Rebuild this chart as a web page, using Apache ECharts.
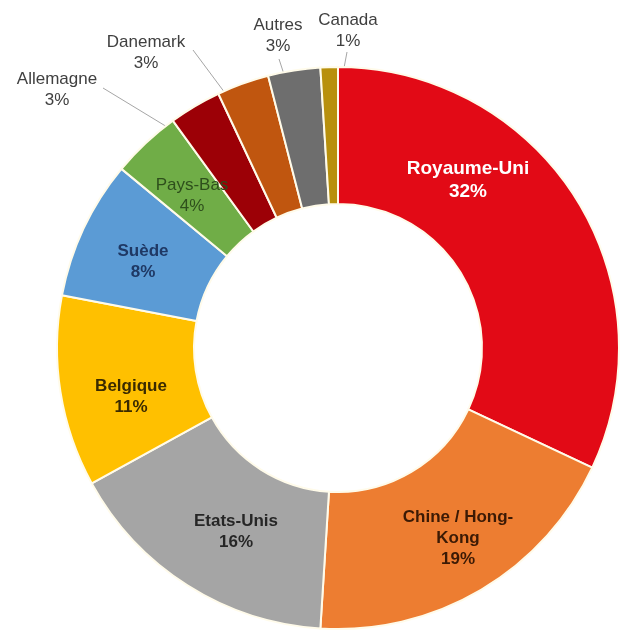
<!DOCTYPE html>
<html>
<head>
<meta charset="utf-8">
<script src="https://cdn.jsdelivr.net/npm/echarts@6/dist/echarts.min.js"></script>
<style>
html,body{margin:0;padding:0;background:#fff;}
#chart{width:621px;height:633px;}
</style>
</head>
<body>
<div id="chart"></div>
<script>
// Data
const categories = ['Royaume-Uni', 'Chine / Hong-Kong', 'Etats-Unis', 'Belgique', 'Suède', 'Pays-Bas', 'Allemagne', 'Danemark', 'Autres', 'Canada'];
const shares = [32, 19, 16, 11, 8, 4, 3, 3, 3, 1];

// Styles
const colors = ['#E20A16', '#ED7D31', '#A5A5A5', '#FFC000', '#5B9BD5', '#70AD47', '#9C0006', '#C0560F', '#6E6E6E', '#B8900C'];
const labelColors = ['#FFFFFF', '#3B1A05', '#262626', '#3A2A00', '#1F3864', '#2E4F1C', '#404040', '#404040', '#404040', '#404040'];
const labelSizes = [19, 17, 17, 17, 17, 17, 17, 17, 17, 17];
const outsideNames = ['Allemagne', 'Danemark', 'Autres', 'Canada'];
const labelCenters = {
  'Royaume-Uni': [468, 180],
  'Chine / Hong-Kong': [458, 538],
  'Etats-Unis': [236, 532],
  'Belgique': [131, 397],
  'Suède': [143, 262],
  'Pays-Bas': [192, 196],
  'Allemagne': [57, 90],
  'Danemark': [146, 53],
  'Autres': [278, 36],
  'Canada': [348, 31]
};
const lineStarts = {
  'Allemagne': [103, 88],
  'Danemark': [193, 50],
  'Autres': [279, 59],
  'Canada': [347, 52]
};
const CX = 338, CY = 348, R0 = 144, R1 = 281;

const total = shares.reduce((a, b) => a + b, 0);
function midPoint(idx) {
  let cum = 0;
  for (let i = 0; i < idx; i++) cum += shares[i];
  const th = (cum + shares[idx] / 2) / total * 2 * Math.PI;
  const r = (R0 + R1) / 2;
  return [CX + r * Math.sin(th), CY - r * Math.cos(th)];
}

const chart = echarts.init(document.getElementById('chart'), null, {renderer: 'canvas'});

const data = categories.map((name, i) => {
  const outside = outsideNames.indexOf(name) >= 0;
  return {
    name: name,
    value: shares[i],
    itemStyle: {color: colors[i]},
    label: {
      color: labelColors[i],
      fontWeight: (outside || name === 'Pays-Bas') ? 'normal' : 'bold',
      fontSize: labelSizes[i],
      lineHeight: labelSizes[i] + 4
    },
    labelLine: {show: outside, showAbove: true, lineStyle: {color: '#A6A6A6', width: 1}}
  };
});

chart.setOption({
  animation: false,
  backgroundColor: '#ffffff',
  series: [{
    type: 'pie',
    center: [CX, CY],
    radius: [R0, R1],
    startAngle: 90,
    clockwise: true,
    avoidLabelOverlap: false,
    itemStyle: {borderColor: '#FFFBEA', borderWidth: 2},
    label: {
      show: true,
      position: 'outside',
      fontFamily: 'Liberation Sans, Arial, sans-serif',
      formatter: function (p) {
        return p.name.replace('Hong-', 'Hong-\n') + '\n' + p.value + '%';
      }
    },
    labelLine: {length: 10, length2: 10, showAbove: true},
    labelLayout: function (params) {
      const name = categories[params.dataIndex];
      const pos = labelCenters[name];
      const res = {x: pos[0], y: pos[1], align: 'center', verticalAlign: 'middle'};
      if (lineStarts[name]) {
        res.labelLinePoints = [lineStarts[name], midPoint(params.dataIndex)];
      }
      return res;
    },
    emphasis: {disabled: true},
    data: data
  }]
});
</script>
</body>
</html>
